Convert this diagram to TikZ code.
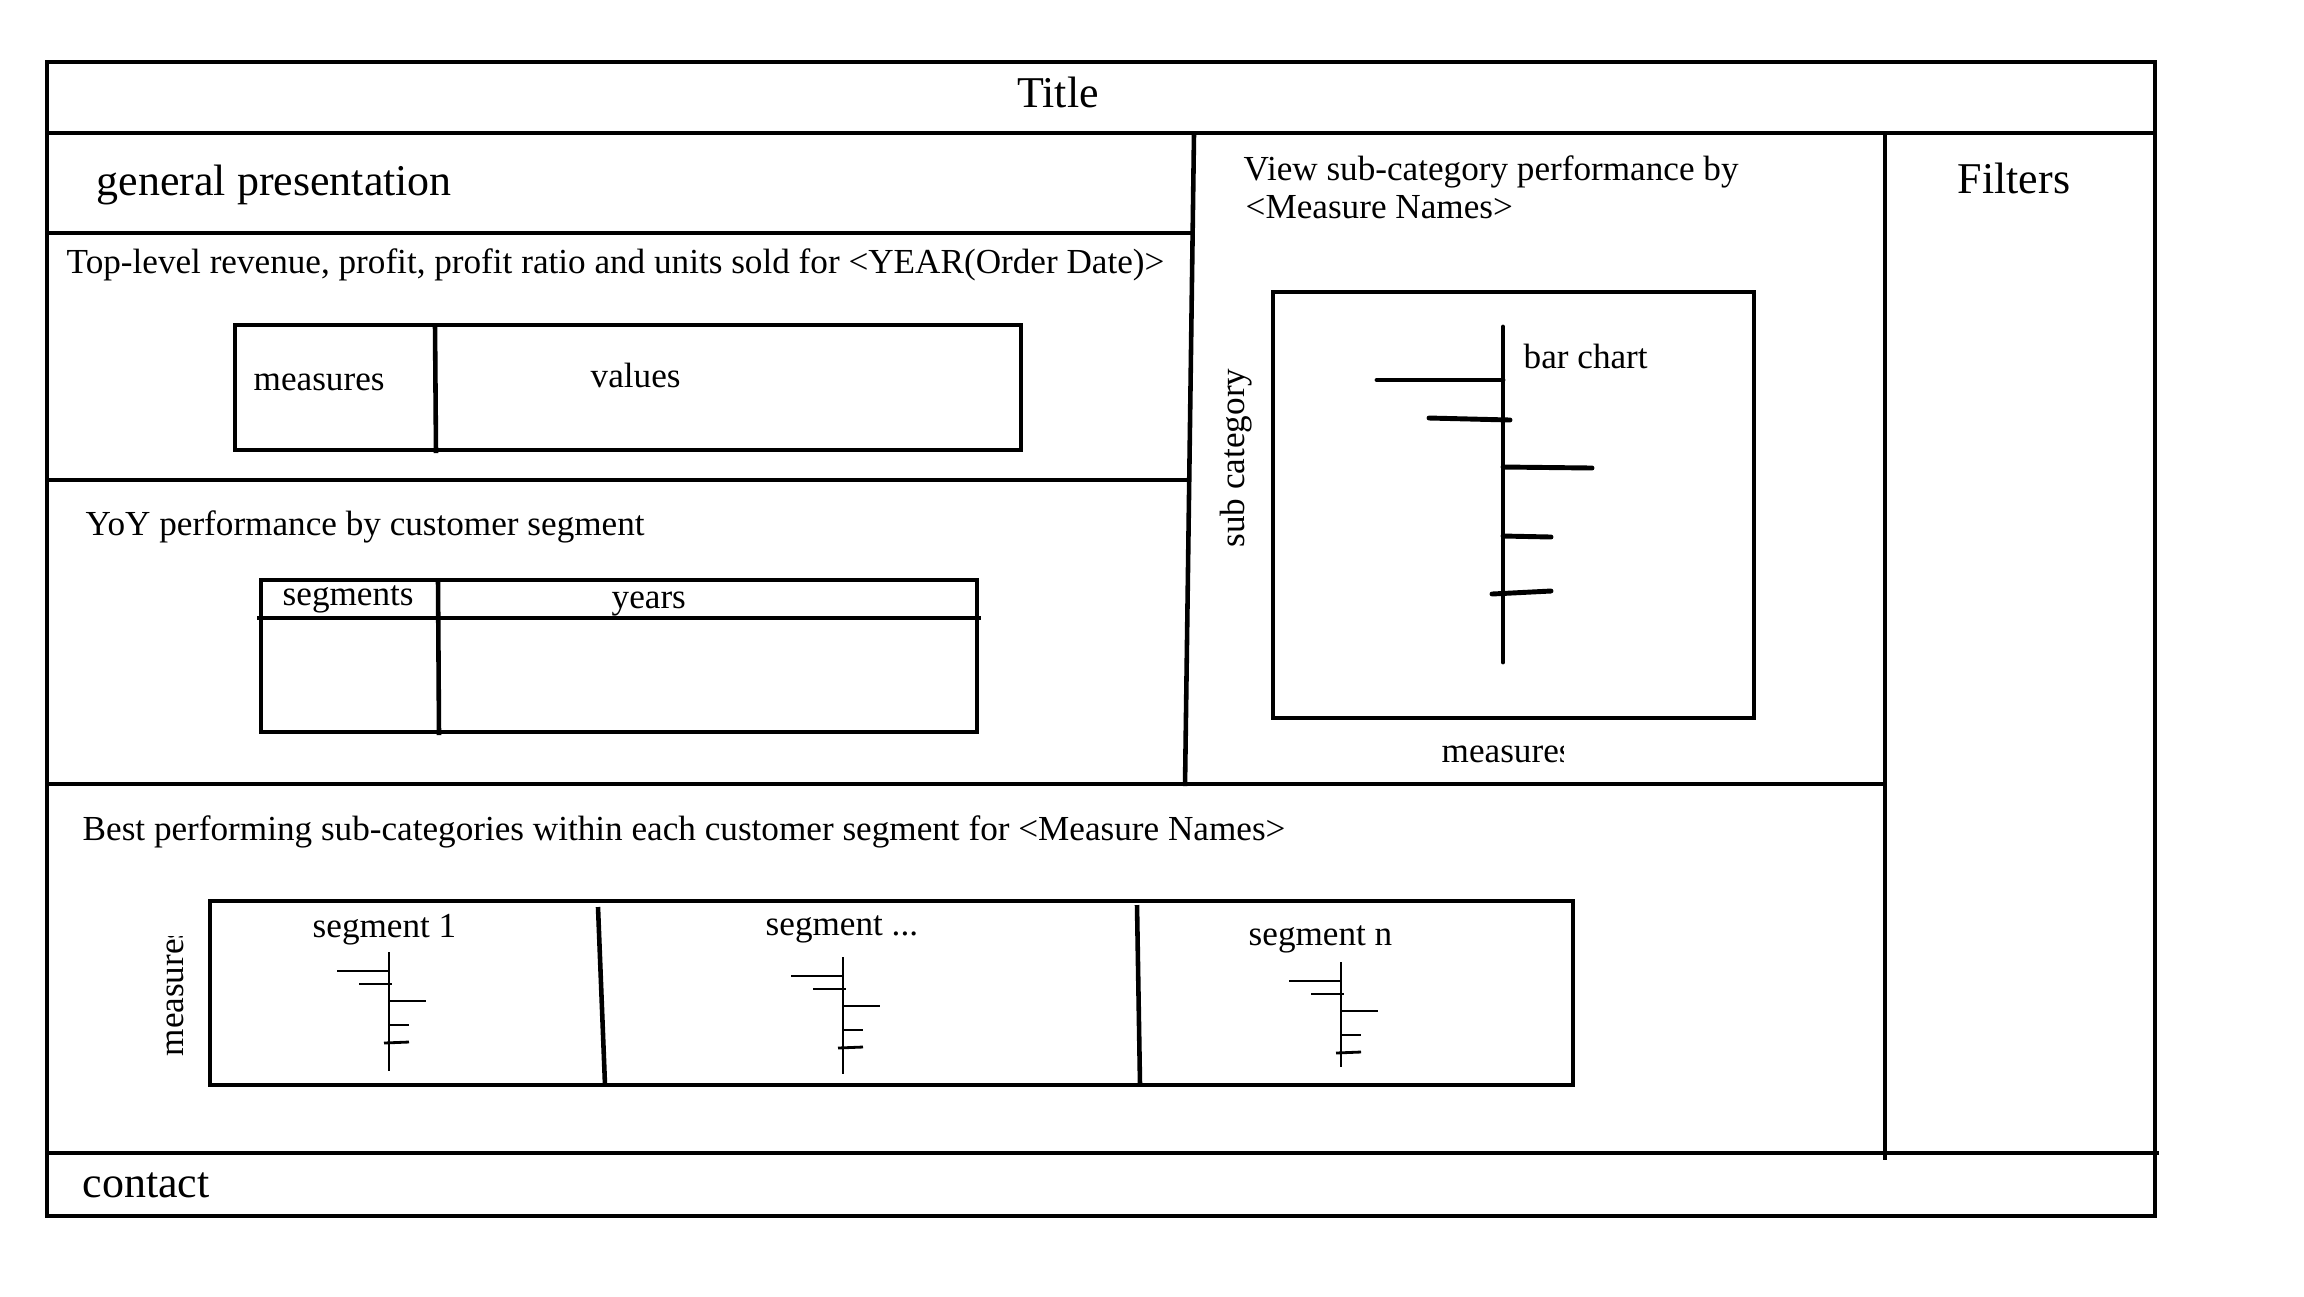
\documentclass[tikz,border=0pt]{standalone}
\usepackage{fontspec}
\setmainfont{Liberation Serif}
\usepackage{tikz}
\usetikzlibrary{positioning}

\tikzset{
  frame/.style={line width=1.3pt},
  heavy/.style={line width=1.4pt, line cap=round},
  fine/.style={line width=0.8pt},
  big/.style={inner sep=0pt, font=\fontsize{12.5}{15}\selectfont},
  txt/.style={inner sep=0pt, font=\fontsize{10}{12}\selectfont},
}

\begin{document}
\begin{tikzpicture}[x=0.01cm, y=-0.01cm]
\useasboundingbox (0,0) rectangle (2304,1296);

\draw[frame] (47,62) rectangle (2155,1216);
\draw[frame] (47,133) -- (2155,133);
\draw[frame] (1194,133) -- (1185,786);
\draw[frame] (1885,133) -- (1885,1160);
\draw[frame] (47,233) -- (1194,233);
\draw[frame] (47,480) -- (1190,480);
\draw[frame] (47,784) -- (1885,784);
\draw[frame] (45,1153) -- (2159,1153);

\node[big, anchor=base] (title) at (1058,107) {Title};
\node[big, anchor=base west] (general) at (96,195) {general presentation};
\node[big, anchor=base] (filters) at (2014,193) {Filters};
\node[big, anchor=base west] (contact) at (82,1197) {contact};

\node[txt, anchor=base west] (toplevel) at (66,273) {Top-level revenue, profit, profit ratio and units sold for <YEAR(Order Date)>};
\draw[frame] (235,325) rectangle (1021,450);
\draw[frame] (435,325) -- (436,453);
\node[txt, anchor=base west] (measures) at (253,390) {measures};
\node[txt, anchor=base west] (values) at (590,387) {values};

\node[txt, anchor=base west] (yoy) at (85,535) {YoY performance by customer segment};
\draw[frame] (261,580) rectangle (977,732);
\draw[frame] (257,618) -- (981,618);
\draw[frame] (438,580) -- (439,735);
\node[txt, anchor=base west] (segments) at (282,605) {segments};
\node[txt, anchor=base west] (years) at (611,608) {years};

\node[txt, anchor=base west] (view) at (1243,180) {View sub-category performance by};
\node[txt, anchor=base west] (names) at (1245,218) {<Measure Names>};
\draw[frame] (1273,292) rectangle (1754,718);
\draw[heavy] (1503,327) -- (1503,662);
\draw[heavy] (1377,380) -- (1503,380);
\draw[heavy] (1429,418) -- (1510,420);
\draw[heavy] (1503,467) -- (1592,468);
\draw[heavy] (1503,536) -- (1551,537);
\draw[heavy] (1492,594) -- (1551,591);
\node[txt, anchor=base west] (barchart) at (1523,368) {bar chart};
\node[txt, anchor=base west, rotate=90] (subcat) at (1244,548) {sub category};
\begin{scope}
\clip (1400,720) rectangle (1563,780);
\node[txt, anchor=base west] (xmeasure) at (1441,762) {measures};
\end{scope}

\node[txt, anchor=base west] (best) at (82,840) {Best performing sub-categories within each customer segment for <Measure Names>};
\draw[frame] (210,901) rectangle (1573,1085);
\draw[frame] (598,907) -- (605,1085);
\draw[frame] (1137,905) -- (1140,1085);
\node[txt, anchor=base west] (seg1) at (312,937) {segment 1};
\node[txt, anchor=base west] (segdots) at (765,935) {segment ...};
\node[txt, anchor=base west] (segn) at (1248,945) {segment n};
\begin{scope}
\clip (140,936) rectangle (200,1070);
\node[txt, anchor=base west, rotate=90] (ymeasure) at (183,1057) {measures};
\end{scope}

\foreach \x/\y/\h in {389/952/119, 843/957/117, 1341/962/105} {
  \draw[fine] (\x,\y) -- (\x,\y+\h);
  \draw[fine] (\x-52,\y+19) -- (\x,\y+19);
  \draw[fine] (\x-30,\y+32) -- (\x+3,\y+32);
  \draw[fine] (\x,\y+49) -- (\x+37,\y+49);
  \draw[fine] (\x,\y+73) -- (\x+20,\y+73);
  \draw[fine] (\x-5,\y+91) -- (\x+20,\y+90);
}
\end{tikzpicture}
\end{document}
